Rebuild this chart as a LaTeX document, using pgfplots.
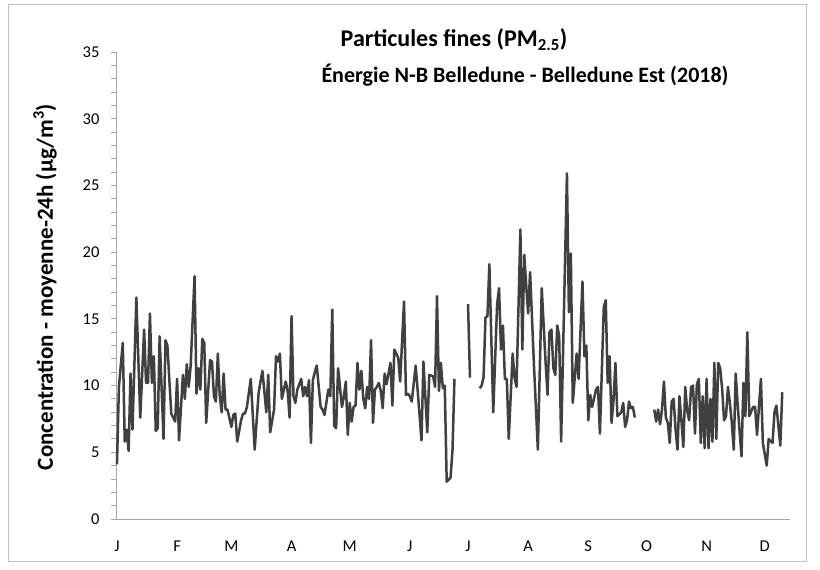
\documentclass[border=0pt]{standalone}
\usepackage{pgfplots}
\pgfplotsset{compat=1.18}
\usepackage{fontspec}
\setmainfont{Carlito}
\definecolor{linec}{HTML}{404040}
\definecolor{axc}{HTML}{A6A6A6}
\definecolor{framec}{HTML}{BFBFBF}
\begin{document}
\begin{tikzpicture}[x=1pt,y=1pt]
\fill[white] (-116,-51) rectangle (704,519);
\draw[framec, line width=0.75pt] (-107.5,-42) rectangle (690,514.5);
\begin{axis}[scale only axis,
  width=674pt, height=467pt,
  xmin=-0.5, xmax=347, ymin=0, ymax=35,
  axis x line*=bottom, axis y line*=left,
  axis line style={axc, line width=0.9pt},
  ytick={0,5,...,35}, minor y tick num=4,
  tick align=outside, major tick length=5pt, minor tick length=5pt,
  every tick/.style={axc, line width=0.9pt},
  xtick={0,31,59,90,120,151,181,212,243,273,304,334},
  xticklabels={J,F,M,A,M,J,J,A,S,O,N,D},
  major x tick style={draw=none},
  /pgf/number format/assume math mode=true,
  ticklabel style={font=\fontsize{16.5}{19}\selectfont, text=black},
  xticklabel style={yshift=-13pt},
  yticklabel style={xshift=-8pt},
  unbounded coords=jump,
  clip=false]
\addplot[linec, line width=2.5pt, line join=round, no markers] coordinates {
(0,4.1) (1,9.9) (3,13.2) (4,5.8) (5,6.7) (6,5.1) (7,10.9) (8,6.7) (10,16.6)
(12,7.6) (14,14.2) (15,10.2) (16,10.2) (17,15.4) (18,10.2) (19,12.2) (20,6.6)
(21,6.8) (22,13.7) (24,6.0) (25,13.4) (26,13.0) (28,7.9) (30,7.3) (31,10.5)
(32,5.9) (34,10.8) (35,9.0) (36,11.6) (37,9.9) (38,11.5) (40,18.2) (41,9.4)
(42,11.3) (43,9.7) (44,13.5) (45,13.2) (46,7.2) (48,11.9) (49,11.8) (50,9.2)
(51,8.8) (52,12.4) (53,9.2) (54,8.0) (55,10.9) (56,8.2) (57,8.2) (59,6.9)
(60,7.8) (61,7.9) (62,5.8) (64,7.4) (65,7.9) (66,7.9) (67,8.4) (69,10.5)
(71,5.2) (73,9.4) (74,10.3) (75,11.1) (77,8.0) (78,10.8) (79,6.5) (81,8.2)
(82,12.2) (83,11.8) (84,12.4) (85,9.0) (87,10.3) (88,9.6) (89,7.6) (90,15.2)
(91,9.2) (92,8.7) (93,9.7) (95,10.5) (96,9.2) (97,9.9) (98,9.2) (99,10.4)
(100,5.7) (101,10.4) (102,11.0) (103,11.5) (105,8.4) (106,8.2) (107,7.8)
(109,9.7) (110,9.2) (111,15.7) (112,7.0) (113,6.8) (114,11.3) (116,8.4)
(117,9.2) (118,10.3) (119,6.3) (120,8.7) (121,7.3) (122,8.4) (123,8.5)
(124,11.7) (125,9.7) (126,11.1) (127,9.0) (128,8.3) (129,9.9) (130,9.0)
(131,13.4) (132,7.2) (133,9.7) (134,9.9) (135,10.2) (136,9.6) (137,8.3)
(138,10.9) (139,10.1) (141,11.7) (142,8.5) (143,12.7) (145,12.1) (146,10.3)
(148,16.3) (149,9.3) (150,9.4) (151,9.2) (152,8.8) (154,11.5) (155,9.7)
(157,5.9) (158,11.8) (160,6.5) (161,10.8) (163,10.7) (164,9.9) (165,16.7)
(166,9.6) (167,11.7) (168,9.8) (169,10.0) (170,2.8) (172,3.1) (173,5.2)
(174,10.5) (175,nan)
(181,16.1) (182,10.6) (183,nan)
(187,9.8) (188,10.0) (189,10.6) (190,15.1) (191,15.2) (192,19.1) (194,8.0)
(196,16.1) (197,17.3) (198,12.7) (199,14.5) (200,10.5) (201,10.5) (202,6.0)
(204,12.4) (205,10.6) (206,9.9) (208,21.7) (209,12.7) (210,19.8) (211,17.5)
(212,15.4) (213,18.5) (215,11.5) (217,5.2) (219,17.3) (221,11.7) (222,9.3)
(223,14.0) (224,14.2) (225,11.3) (226,10.8) (227,14.5) (228,13.7) (229,5.8)
(232,25.9) (233,15.5) (234,19.9) (235,8.7) (237,12.4) (238,10.5) (240,17.8)
(241,12.2) (242,13.0) (243,7.4) (244,9.3) (245,8.4) (247,9.7) (248,9.9)
(249,6.4) (251,15.9) (252,16.4) (253,10.2) (254,12.2) (255,7.2) (256,8.9)
(257,11.7) (258,7.7) (260,8.0) (261,8.7) (262,6.9) (263,7.4) (264,8.8)
(265,8.3) (266,8.4) (267,7.6) (268,nan)
(277,8.2) (278,7.3) (279,8.2) (280,7.1) (281,8.2) (282,10.3) (283,7.6)
(284,7.2) (285,5.7) (286,8.8) (287,9.0) (288,6.7) (289,5.2) (290,9.2)
(291,7.4) (292,5.4) (293,9.9) (294,8.1) (295,7.4) (296,9.9) (297,10.0)
(298,6.4) (299,10.1) (300,10.5) (301,5.7) (302,9.2) (303,5.3) (304,10.5)
(305,5.3) (306,9.0) (307,5.8) (308,11.7) (309,6.0) (310,11.7) (311,11.3)
(312,9.8) (313,7.4) (314,7.7) (315,9.9) (316,8.7) (317,7.2) (318,5.2)
(319,10.9) (320,8.6) (321,6.6) (322,4.7) (323,10.2) (324,7.7) (325,14.0)
(326,7.7) (328,8.4) (329,8.4) (330,6.3) (332,10.5) (333,5.7) (335,4.0)
(336,6.0) (338,5.7) (339,8.0) (340,8.5) (342,5.5) (343,9.5)
};
\end{axis}
\node[font=\bfseries\fontsize{24}{28}\selectfont] at (338,479) {Particules fines (PM\textsubscript{2.5})};
\node[font=\bfseries\fontsize{22}{26}\selectfont] at (409,444) {Énergie N-B Belledune - Belledune Est (2018)};
\node[rotate=90, font=\bfseries\fontsize{23}{27}\selectfont] at (-71,232) {Concentration - moyenne-24h (µg/m\textsuperscript{3})};
\end{tikzpicture}
\end{document}
